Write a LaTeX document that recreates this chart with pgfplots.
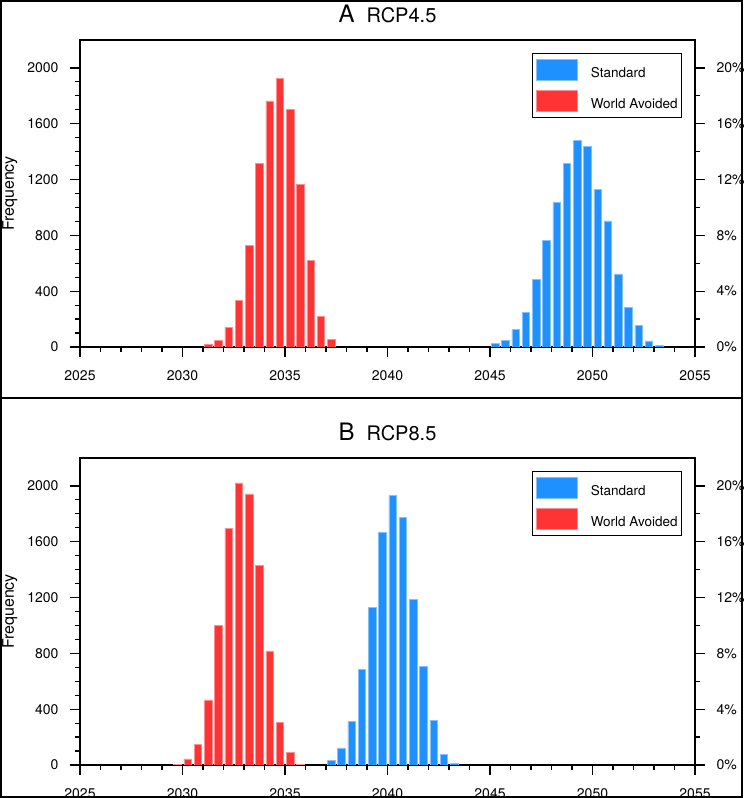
\documentclass[border=0pt]{standalone}
\usepackage{pgfplots}
\pgfplotsset{compat=1.18}
\usepackage{fontspec}
\setmainfont{TeX Gyre Heros}

\definecolor{stdblue}{RGB}{30,144,255}
\definecolor{wared}{RGB}{255,51,51}

\pgfplotsset{
  panel/.style={
    scale only axis, width=615pt, height=307pt,
    xmin=2025, xmax=2055, ymin=0, ymax=2200,
    xtick={2025,2030,...,2055}, minor x tick num=4,
    ytick={0,400,...,2000}, minor y tick num=3,
    tick align=outside, tick pos=left,
    major tick length=10pt, minor tick length=5pt,
    axis line style={line width=1.2pt},
    every tick/.style={black, line width=1.2pt},
    /pgf/number format/1000 sep={},
    /pgf/number format/assume math mode=true,
    tick label style={font=\fontsize{14}{14}\selectfont},
    xticklabel style={yshift=-10pt},
    yticklabel style={xshift=-8pt},
    ylabel={Frequency},
    every axis y label/.style={at={(axis description cs:-0.114,0.5)}, rotate=90, anchor=center, font=\fontsize{16}{16}\selectfont},
    title style={at={(0.5,1)}, anchor=base, yshift=11pt},
    ybar, bar width=7.4pt, bar shift=0pt,
    legend style={at={(0.978,0.9586)}, anchor=north east, draw=black, line width=0.8pt,
      font=\fontsize{13.5}{13.5}\selectfont, inner xsep=3.5pt, inner ysep=6pt,
      row sep=9pt, nodes={inner sep=0pt}, cells={anchor=west}},
    legend image code/.code={\fill[##1] (0pt,-7pt) rectangle (41pt,14pt); \path (54pt,0pt);},
  },
  pct/.style={
    scale only axis, width=615pt, height=307pt,
    xmin=2025, xmax=2055, ymin=0, ymax=22,
    hide x axis, axis y line*=right,
    ytick={0,4,...,20}, minor y tick num=1,
    tick align=outside,
    major tick length=10pt, minor tick length=5pt,
    axis line style={line width=1.2pt},
    every tick/.style={black, line width=1.2pt},
    /pgf/number format/assume math mode=true,
    tick label style={font=\fontsize{14}{14}\selectfont},
    yticklabel style={xshift=8pt},
    yticklabel={\pgfmathprintnumber{\tick}\%},
  },
  bluebar/.style={fill=stdblue, draw=stdblue!55!white, line width=0.6pt},
  redbar/.style={fill=wared, draw=wared!55!white, line width=0.6pt},
}

\begin{document}
\begin{tikzpicture}
\useasboundingbox (0,0) rectangle (745pt,798pt);
\draw[line width=1.6pt] (1pt,1.2pt) rectangle (742pt,797pt);
\draw[line width=1.2pt] (1pt,400pt) -- (742pt,400pt);

% A: RCP4.5
\begin{axis}[panel, at={(80pt,451pt)}, anchor=south west,
  title={\fontsize{24}{24}\selectfont A\hspace{12pt}\fontsize{20}{20}\selectfont RCP4.5}]
\addplot[bluebar] coordinates {
  (2045.25,23) (2045.75,49) (2046.25,126) (2046.75,250) (2047.25,486)
  (2047.75,765) (2048.25,1035) (2048.75,1316) (2049.25,1480) (2049.75,1440)
  (2050.25,1130) (2050.75,903) (2051.25,524) (2051.75,281) (2052.25,155)
  (2052.75,43) (2053.25,14)};
\addplot[redbar] coordinates {
  (2031.25,16) (2031.75,45) (2032.25,143) (2032.75,333) (2033.25,729)
  (2033.75,1316) (2034.25,1764) (2034.75,1924) (2035.25,1702) (2035.75,1168)
  (2036.25,620) (2036.75,219) (2037.25,57)};
\legend{Standard, World Avoided}
\end{axis}
\begin{axis}[pct, at={(80pt,451pt)}, anchor=south west]
\end{axis}

% B: RCP8.5
\begin{axis}[panel, at={(80pt,33pt)}, anchor=south west,
  title={\fontsize{24}{24}\selectfont B\hspace{12pt}\fontsize{20}{20}\selectfont RCP8.5}]
\addplot[bluebar] coordinates {
  (2037.25,34) (2037.75,122) (2038.25,312) (2038.75,687) (2039.25,1130)
  (2039.75,1667) (2040.25,1931) (2040.75,1772) (2041.25,1187) (2041.75,706)
  (2042.25,322) (2042.75,74) (2043.25,14)};
\addplot[redbar] coordinates {
  (2029.75,7) (2030.25,43) (2030.75,148) (2031.25,467) (2031.75,999)
  (2032.25,1695) (2032.75,2022) (2033.25,1943) (2033.75,1433) (2034.25,818)
  (2034.75,305) (2035.25,88) (2035.75,7)};
\legend{Standard, World Avoided}
\end{axis}
\begin{axis}[pct, at={(80pt,33pt)}, anchor=south west]
\end{axis}
\end{tikzpicture}
\end{document}
